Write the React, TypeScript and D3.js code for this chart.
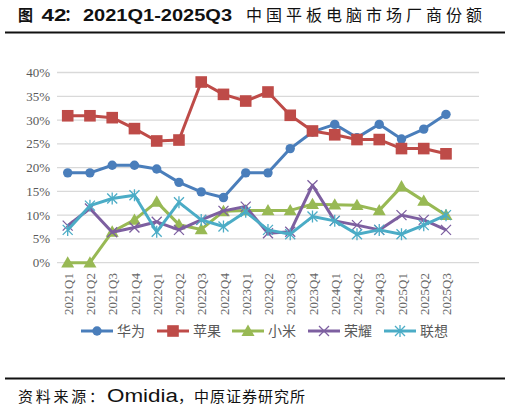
import React from 'react';
import * as d3 from 'd3';

const quarters = [
  '2021Q1', '2021Q2', '2021Q3', '2021Q4', '2022Q1', '2022Q2', '2022Q3', '2022Q4',
  '2023Q1', '2023Q2', '2023Q3', '2023Q4', '2024Q1', '2024Q2', '2024Q3',
  '2025Q1', '2025Q2', '2025Q3',
];

const huawei = [18.9, 18.9, 20.5, 20.5, 19.7, 16.9, 14.9, 13.7, 18.9, 18.9, 24.0, 27.5, 29.1, 26.3, 29.1, 26.0, 28.1, 31.2];
const apple = [30.9, 30.9, 30.5, 28.2, 25.6, 25.8, 38.0, 35.4, 34.0, 35.9, 31.0, 27.7, 26.9, 25.9, 25.9, 24.0, 24.0, 22.9];
const xiaomi = [0, 0, 6.5, 9.0, 12.8, 8.0, 7.0, 10.8, 11.0, 11.0, 11.0, 12.3, 12.2, 12.1, 11.0, 16.0, 13.0, 10.0];
const honor = [7.8, 11.4, 6.4, 7.4, 8.6, 6.9, 9.0, 10.9, 11.8, 6.2, 6.5, 16.3, 8.8, 7.9, 6.9, 10.0, 9.0, 6.9];
const lenovo = [6.9, 12.0, 13.5, 14.2, 6.5, 12.7, 9.0, 7.6, 10.7, 6.9, 6.0, 9.7, 8.8, 6.0, 6.9, 6.0, 7.9, 10.0];

type Marker = 'circle' | 'square' | 'triangle' | 'x' | 'star';

const series: { name: string; values: number[]; color: string; marker: Marker }[] = [
  { name: '华为', values: huawei, color: '#4A7EBB', marker: 'circle' },
  { name: '苹果', values: apple, color: '#BE4B48', marker: 'square' },
  { name: '小米', values: xiaomi, color: '#98B954', marker: 'triangle' },
  { name: '荣耀', values: honor, color: '#7D5FA0', marker: 'x' },
  { name: '联想', values: lenovo, color: '#4BACC6', marker: 'star' },
];

const W = 511;
const H = 410;
const gridLeft = 57;
const gridRight = 479;

const x = d3.scalePoint<string>().domain(quarters).range([67.7, 446]);
const y = d3.scaleLinear().domain([0, 40]).range([262.7, 72.5]);
const yTicks = d3.range(0, 41, 5);

const cjk = '"Noto Sans CJK SC", "Noto Sans", sans-serif';
const sans = '"Liberation Sans", Arial, sans-serif';
const serif = '"Liberation Serif", "DejaVu Serif", serif';

function MarkerShape({ type, cx, cy, color }: { type: Marker; cx: number; cy: number; color: string }) {
  if (type === 'circle') return <circle cx={cx} cy={cy} r={4.7} fill={color} />;
  if (type === 'square') return <rect x={cx - 5.8} y={cy - 5.8} width={11.6} height={11.6} fill={color} />;
  if (type === 'triangle') {
    const s = 6.5;
    return <path d={`M${cx},${cy - s}L${cx + s},${cy + s * 0.75}L${cx - s},${cy + s * 0.75}Z`} fill={color} />;
  }
  const s = 5;
  if (type === 'x') {
    return (
      <path d={`M${cx - s},${cy - s}L${cx + s},${cy + s}M${cx - s},${cy + s}L${cx + s},${cy - s}`}
        stroke={color} strokeWidth={1.3} fill="none" />
    );
  }
  return (
    <path d={`M${cx - s},${cy - s}L${cx + s},${cy + s}M${cx - s},${cy + s}L${cx + s},${cy - s}M${cx},${cy - s * 1.2}L${cx},${cy + s * 1.2}`}
      stroke={color} strokeWidth={1.3} fill="none" />
  );
}

export default function App() {
  const line = d3.line<number>()
    .x((_, i) => x(quarters[i]) as number)
    .y(d => y(d));

  const legendX = [81, 157, 232, 308, 384];

  return (
    <svg width={W} height={H} style={{ position: 'absolute', left: 0, top: 0, background: '#fff' }}>
      <g fill="#111" fontSize={16}>
        <text x={18} y={21} fontFamily={cjk} fontWeight="bold" textLength={15} lengthAdjust="spacingAndGlyphs">图</text>
        <text x={41.5} y={21} fontFamily={sans} fontWeight="bold" textLength={25} lengthAdjust="spacingAndGlyphs">42</text>
        <text x={64} y={21} fontFamily={cjk} fontWeight="bold">：</text>
        <text x={83} y={21} fontFamily={sans} fontWeight="bold" textLength={149} lengthAdjust="spacingAndGlyphs">2021Q1-2025Q3</text>
        <text x={246} y={21} fontFamily={cjk} textLength={236}>中国平板电脑市场厂商份额</text>
      </g>
      <line x1={5} x2={505} y1={32.5} y2={32.5} stroke="#111" strokeWidth={2} />

      {yTicks.map(t => (
        <g key={t}>
          <line x1={gridLeft} x2={gridRight} y1={y(t)} y2={y(t)} stroke="#D9D9D9" strokeWidth={1.3} />
          <text x={50} y={y(t)} dy="0.35em" textAnchor="end" fontFamily={serif} fontSize={13} fill="#595959">
            {d3.format('.0%')(t / 100)}
          </text>
        </g>
      ))}

      {quarters.map(q => (
        <text key={q} transform={`translate(${(x(q) as number) + 0.5},273) rotate(-90)`} dy="0.35em"
          textAnchor="end" fontFamily={serif} fontSize={13} fill="#666">
          {q}
        </text>
      ))}

      {series.map(s => (
        <g key={s.name}>
          <path d={line(s.values) || ''} fill="none" stroke={s.color} strokeWidth={3} strokeLinejoin="round" />
          {s.values.map((v, i) => (
            <MarkerShape key={i} type={s.marker} cx={x(quarters[i]) as number} cy={y(v)} color={s.color} />
          ))}
        </g>
      ))}

      {series.map((s, i) => (
        <g key={s.name} transform={`translate(${legendX[i]},331)`}>
          <line x1={0} x2={32} y1={0} y2={0} stroke={s.color} strokeWidth={3} />
          <MarkerShape type={s.marker} cx={16} cy={0} color={s.color} />
          <text x={36} y={0} dy="0.36em" fontFamily={cjk} fontSize={14} fill="#595959">{s.name}</text>
        </g>
      ))}

      <line x1={5} x2={505} y1={378.5} y2={378.5} stroke="#111" strokeWidth={2} />
      <g fill="#111">
        <text x={18} y={402} fontFamily={cjk} fontSize={15} textLength={86}>资料来源：</text>
        <text x={107} y={402} fontFamily={sans} fontSize={18} textLength={71} lengthAdjust="spacingAndGlyphs">Omidia</text>
        <text x={178} y={402} fontFamily={cjk} fontSize={15} textLength={127}>，中原证券研究所</text>
      </g>
    </svg>
  );
}
